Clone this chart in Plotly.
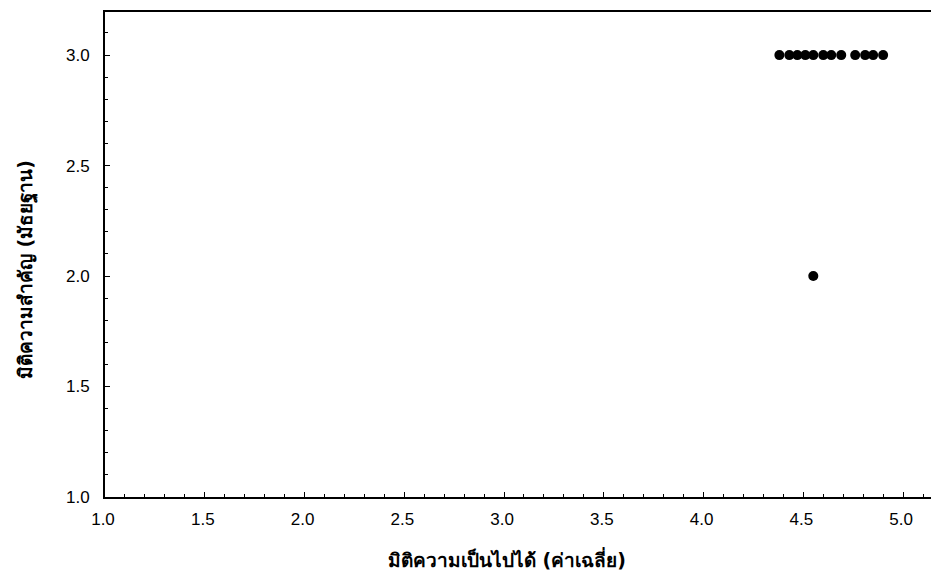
import plotly.graph_objects as go

# Data
x_vals = [4.38, 4.43, 4.47, 4.51, 4.55, 4.60, 4.64, 4.69, 4.76, 4.81, 4.85, 4.90, 4.55]
y_vals = [3.0, 3.0, 3.0, 3.0, 3.0, 3.0, 3.0, 3.0, 3.0, 3.0, 3.0, 3.0, 2.0]
x_ticks = [1.0, 1.5, 2.0, 2.5, 3.0, 3.5, 4.0, 4.5, 5.0]
y_ticks = [1.0, 1.5, 2.0, 2.5, 3.0]
x_title = "มิติความเป็นไปได้ (ค่าเฉลี่ย)"
y_title = "มิติความสำคัญ (มัธยฐาน)"

fig = go.Figure()
fig.add_trace(go.Scatter(
    x=x_vals, y=y_vals, mode="markers",
    marker=dict(color="black", size=10),
    showlegend=False,
))

tickfont = dict(family="Liberation Sans, DejaVu Sans, sans-serif", size=17, color="black")
titlefont = dict(family="DejaVu Sans, Noto Sans, sans-serif", size=19, color="black", weight="bold")

fig.update_layout(
    width=923, height=562,
    margin=dict(l=97, r=0, t=4, b=73),
    paper_bgcolor="white", plot_bgcolor="white",
    xaxis=dict(
        range=[1.0, 5.14], tickvals=x_ticks, ticktext=[f"{v:.1f}" for v in x_ticks],
        showgrid=False, zeroline=False, showline=True, linecolor="black", linewidth=2,
        mirror=True, ticks="inside", ticklen=5, tickcolor="black",
        minor=dict(dtick=0.1, ticks="inside", ticklen=3, tickcolor="black"),
        tickfont=tickfont, ticklabelstandoff=6, ticklabelshift=-2,
    ),
    yaxis=dict(
        range=[1.0, 3.195], tickvals=y_ticks, ticktext=[f"{v:.1f}" for v in y_ticks],
        showgrid=False, zeroline=False, showline=True, linecolor="black", linewidth=2,
        ticks="inside", ticklen=5, tickcolor="black",
        minor=dict(dtick=0.1, ticks="inside", ticklen=3, tickcolor="black"),
        tickfont=tickfont, ticklabelstandoff=10,
    ),
    annotations=[
        dict(text=x_title, xref="paper", yref="paper", x=0.4867, y=-0.128,
             xanchor="center", yanchor="middle", showarrow=False, font=titlefont),
        dict(text=y_title, xref="paper", yref="paper", x=-0.0956, y=0.468,
             xanchor="center", yanchor="middle", showarrow=False, textangle=-90,
             font=titlefont),
    ],
)

fig.write_html("out.html")
